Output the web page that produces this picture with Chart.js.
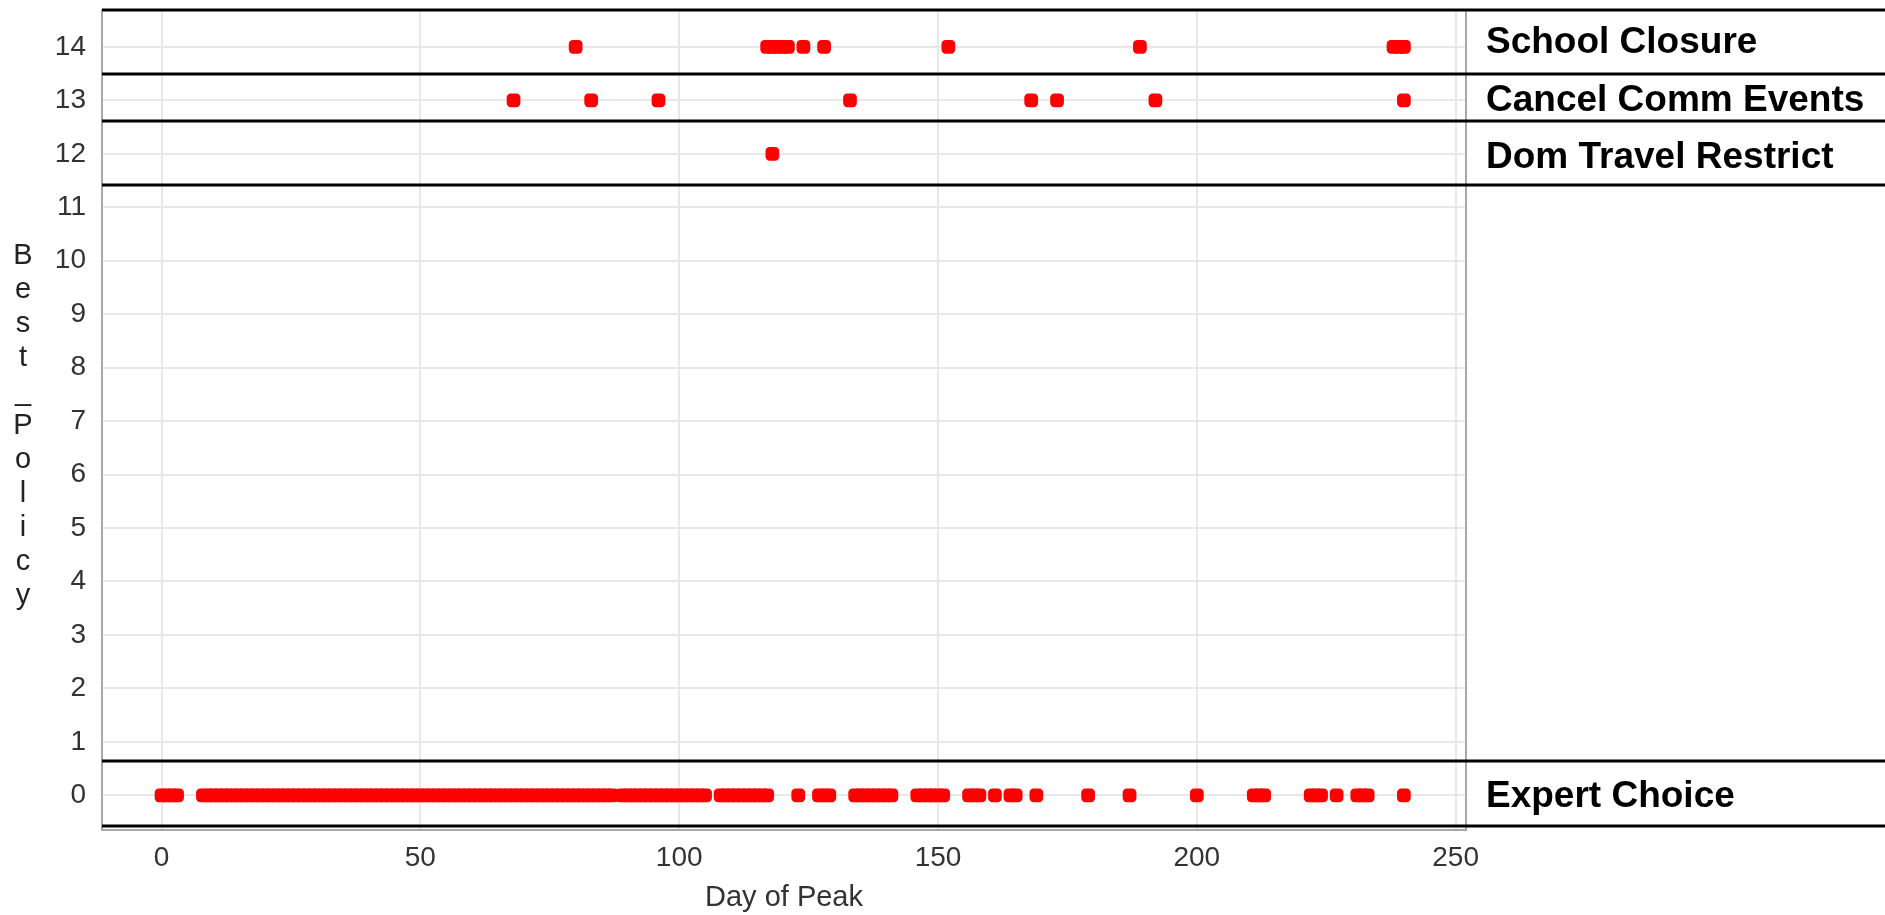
<!DOCTYPE html>
<html lang="en">
<head>
<meta charset="UTF-8">
<title>Best Policy vs Day of Peak</title>
<script src="https://cdn.jsdelivr.net/npm/chart.js"></script>
<style>
  html, body { margin: 0; padding: 0; background: #fff; }
  .chart-box { width: 1885px; height: 915px; position: relative; }
</style>
</head>
<body>
<div class="chart-box"><canvas id="policyChart"></canvas></div>
<script>
// days of peak where each policy came out best
const expertDays = [0, 1, 2, 3,
    8, 9, 10, 11, 12, 13, 14, 15, 16, 17, 18, 19, 20, 21, 22, 23, 24, 25, 26, 27, 28, 29,
    30, 31, 32, 33, 34, 35, 36, 37, 38, 39, 40, 41, 42, 43, 44, 45, 46, 47, 48, 49,
    50, 51, 52, 53, 54, 55, 56, 57, 58, 59, 60, 61, 62, 63, 64, 65, 66, 67, 68, 69,
    70, 71, 72, 73, 74, 75, 76, 77, 78, 79, 80, 81, 82, 83, 84, 85, 86, 87,
    89, 90, 91, 92, 93, 94, 95, 96, 97, 98, 99, 100, 101, 102, 103, 104, 105,
    108, 109, 110, 111, 112, 113, 114, 115, 116, 117,
    123, 127, 128, 129, 134, 135, 136, 137, 138, 139, 140, 141,
    146, 147, 148, 149, 150, 151, 156, 157, 158, 161, 164, 165, 169, 179, 187, 200,
    211, 212, 213, 222, 223, 224, 227, 231, 232, 233, 240];
const domTravelDays = [118];
const cancelCommDays = [68, 83, 96, 133, 168, 173, 192, 240];
const schoolClosureDays = [80, 117, 118, 119, 120, 121, 124, 128, 152, 189, 238, 239, 240];

// policy number of each row and its label on the right
const rowLevels = [0, 12, 13, 14];
const rowNames = ['Expert Choice', 'Dom Travel Restrict', 'Cancel Comm Events', 'School Closure'];
const rowDays = [expertDays, domTravelDays, cancelCommDays, schoolClosureDays];
const labelLevels = [-0.02, 11.93, 13, 14.07];

// black separators between the rows
const bandEdges = [14.69, 13.49, 12.61, 11.41, 0.64, -0.58];

const xTicks = [0, 50, 100, 150, 200, 250];
const yTicks = [0, 1, 2, 3, 4, 5, 6, 7, 8, 9, 10, 11, 12, 13, 14];
const yTitle = 'Best_Policy';

const FONT = '"Liberation Sans", Arial, sans-serif';

const overlay = {
    id: 'overlay',
    afterDraw(chart) {
        const { ctx, chartArea, scales } = chart;
        const y = scales.y;
        ctx.save();
        // right frame line
        ctx.strokeStyle = '#a8a8a8';
        ctx.lineWidth = 2;
        ctx.beginPath();
        ctx.moveTo(chartArea.right, chartArea.top);
        ctx.lineTo(chartArea.right, chartArea.bottom);
        ctx.stroke();

        ctx.strokeStyle = '#000';
        ctx.lineWidth = 3;
        bandEdges.forEach(v => {
            const py = Math.round(y.getPixelForValue(v));
            ctx.beginPath();
            ctx.moveTo(chartArea.left, py);
            ctx.lineTo(chart.width, py);
            ctx.stroke();
        });

        ctx.fillStyle = '#000';
        ctx.font = 'bold 37px ' + FONT;
        ctx.textBaseline = 'middle';
        ctx.textAlign = 'left';
        rowNames.forEach((name, i) => {
            ctx.fillText(name, chartArea.right + 20, y.getPixelForValue(labelLevels[i]));
        });

        // y title: letters stacked upright
        ctx.font = '29px ' + FONT;
        ctx.fillStyle = '#222';
        ctx.textAlign = 'center';
        const chars = yTitle.split('');
        const pitch = 34;
        const mid = (chartArea.top + chartArea.bottom) / 2 + 6;
        chars.forEach((c, i) => {
            ctx.fillText(c, 23, mid + (i - (chars.length - 1) / 2) * pitch);
        });
        ctx.restore();
    }
};

new Chart(document.getElementById('policyChart'), {
    type: 'scatter',
    data: {
        datasets: rowDays.map((days, i) => ({
            label: rowNames[i],
            data: days.map(d => ({ x: d, y: rowLevels[i] })),
            pointStyle: 'rectRounded',
            pointRadius: 8,
            borderWidth: 0,
            backgroundColor: '#ff0000',
            borderColor: '#ff0000'
        }))
    },
    options: {
        responsive: true,
        maintainAspectRatio: false,
        animation: false,
        layout: { padding: { top: 10, right: 419, left: 0, bottom: 0 } },
        plugins: { legend: { display: false }, tooltip: { enabled: false } },
        scales: {
            x: {
                type: 'linear',
                min: -11.5,
                max: 252,
                afterBuildTicks: s => { s.ticks = xTicks.map(v => ({ value: v })); },
                afterFit: s => { s.height = 85.5; s.paddingLeft = 0; s.paddingRight = 0; },
                grid: { color: '#e8e8e8', lineWidth: 2, drawTicks: false },
                border: { color: '#a8a8a8', width: 2 },
                ticks: { font: { family: FONT, size: 28 }, color: '#333', padding: 12 },
                title: { display: true, text: 'Day of Peak', font: { family: FONT, size: 29 }, color: '#333', padding: 0 }
            },
            y: {
                type: 'linear',
                min: -0.64,
                max: 14.69,
                afterBuildTicks: s => { s.ticks = yTicks.map(v => ({ value: v })); },
                afterFit: s => { s.width = 102; s.paddingTop = 0; s.paddingBottom = 0; },
                grid: { color: '#e8e8e8', lineWidth: 2, drawTicks: false },
                border: { color: '#a8a8a8', width: 2 },
                ticks: { font: { family: FONT, size: 28 }, color: '#333', padding: 16 }
            }
        }
    },
    plugins: [overlay]
});
</script>
</body>
</html>
